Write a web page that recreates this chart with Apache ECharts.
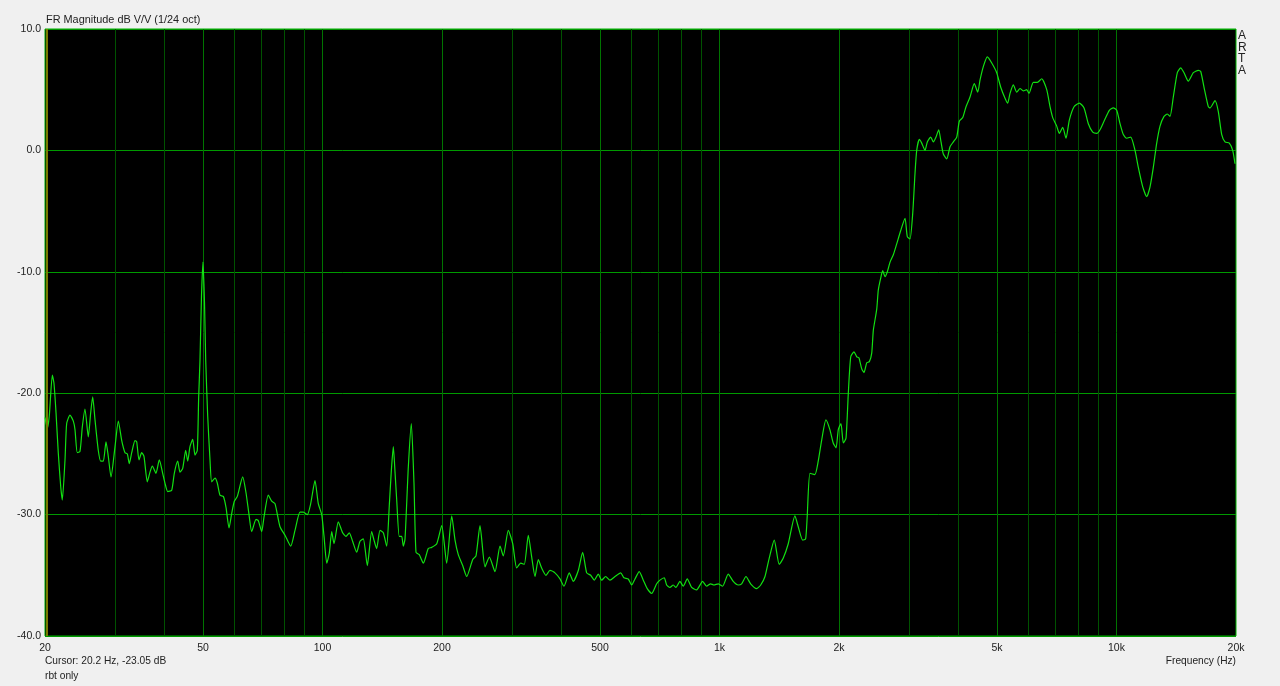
<!DOCTYPE html>
<html>
<head>
<meta charset="utf-8">
<script src="https://cdn.jsdelivr.net/npm/echarts@6/dist/echarts.min.js"></script>
<style>
html,body{margin:0;padding:0;background:#f0f0f0;}
#chart{width:1280px;height:686px;}
</style>
</head>
<body>
<div id="chart"></div>
<script>
// Frequency (Hz)
const freqs = [20.0,20.27,20.5,20.87,21.07,21.32,21.6,21.91,22.11,22.46,22.68,23.12,23.57,23.8,24.12,24.5,24.83,25.22,25.71,26.07,26.37,26.73,27.24,27.63,28.05,28.49,28.87,29.33,30.02,30.6,31.21,31.81,32.24,32.61,33.07,33.71,34.04,34.5,35.04,35.51,36.2,36.77,37.27,38.07,38.81,39.58,40.11,40.75,41.7,42.34,43.18,43.76,44.45,45.23,45.76,46.37,47.11,47.74,48.38,48.77,49.14,49.57,50.0,50.44,50.8,51.39,52.08,52.59,53.61,54.33,55.19,56.26,57.14,58.15,59.06,59.96,61.02,62.96,64.17,65.3,66.33,68.01,68.92,70.29,71.23,73.03,74.49,75.92,78.16,80.46,83.16,85.26,87.77,89.47,91.56,93.39,95.75,97.59,99.54,100.9,102.5,104.0,105.5,106.9,109.6,112.4,114.6,116.8,119.1,121.9,124.3,126.7,129.7,133.0,134.8,136.9,139.6,142.3,145.1,147.3,149.0,150.8,152.3,153.8,156.1,158.3,159.8,161.4,164.5,167.4,170.0,172.0,175.3,179.5,184.7,188.4,194.0,199.7,205.5,211.6,215.7,219.8,225.5,230.8,239.0,243.6,249.3,256.7,263.2,272.0,280.0,285.4,293.8,301.4,308.4,315.7,322.3,329.9,336.5,343.0,349.6,356.5,365.6,374.1,385.1,396.5,405.8,418.4,428.3,440.9,452.2,462.9,473.7,483.7,495.1,504.9,516.8,529.8,545.4,563.7,574.6,589.1,600.8,612.5,627.9,642.7,657.7,674.7,694.6,708.0,725.8,736.0,750.2,764.7,776.8,795.0,810.4,829.4,850.8,875.8,906.8,928.1,949.9,968.3,992.7,1018,1052,1083,1115,1137,1166,1198,1240,1270,1302,1334,1374,1414,1447,1490,1549,1579,1620,1648,1663,1690,1739,1773,1808,1854,1897,1934,1966,1992,2023,2051,2083,2111,2141,2182,2217,2246,2282,2312,2349,2385,2418,2441,2489,2512,2548,2577,2612,2647,2689,2741,2795,2861,2933,2972,3019,3067,3108,3139,3187,3231,3294,3338,3404,3456,3511,3566,3614,3663,3736,3808,3882,3959,4019,4099,4178,4276,4384,4472,4532,4619,4728,4850,4992,5110,5239,5321,5393,5497,5606,5715,5825,5941,6021,6173,6318,6481,6672,6801,6908,7071,7178,7321,7462,7607,7817,8061,8284,8493,8712,8917,9089,9302,9593,9818,10014,10207,10404,10612,10861,11135,11350,11644,11917,12147,12381,12628,12872,13174,13429,13641,13904,14231,14514,14794,15169,15615,16074,16300,16615,17034,17203,17709,18051,18411,18767,19240,19620,19884];
// Magnitude (dB)
const magnitudes = [-22.0,-22.9,-21.9,-18.5,-19.2,-21.6,-24.9,-27.7,-28.8,-25.5,-22.5,-21.8,-22.3,-23.0,-24.9,-24.8,-22.8,-21.3,-23.6,-21.6,-20.3,-22.2,-24.7,-25.6,-25.6,-24.0,-25.2,-26.9,-24.4,-22.3,-23.9,-24.9,-25.0,-25.8,-24.9,-23.9,-24.0,-25.5,-24.9,-25.2,-27.3,-26.5,-26.0,-26.6,-25.5,-26.6,-27.4,-28.1,-28.0,-26.6,-25.6,-26.5,-26.2,-24.7,-25.6,-24.4,-23.8,-25.1,-24.7,-20.3,-17.3,-12.0,-9.2,-12.5,-17.3,-21.9,-25.5,-27.3,-27.0,-27.4,-28.4,-28.5,-29.4,-31.1,-29.9,-28.9,-28.5,-26.9,-28.2,-30.0,-31.4,-30.4,-30.5,-31.4,-30.2,-28.4,-28.9,-29.1,-31.0,-31.7,-32.6,-31.3,-29.8,-29.8,-30.0,-29.1,-27.2,-29.1,-30.0,-31.8,-34.0,-33.2,-31.4,-32.4,-30.6,-31.5,-31.8,-31.5,-32.2,-33.1,-32.2,-32.0,-34.2,-31.4,-32.1,-32.8,-31.3,-31.5,-32.6,-29.3,-26.5,-24.4,-26.5,-28.8,-31.8,-31.8,-32.6,-32.0,-26.1,-22.5,-27.4,-33.1,-33.3,-34.0,-32.8,-32.7,-32.4,-30.9,-34.0,-30.1,-32.1,-33.3,-34.2,-35.1,-33.7,-33.4,-30.9,-34.3,-33.5,-34.7,-32.6,-33.4,-31.3,-32.4,-34.4,-34.0,-34.1,-31.7,-33.5,-35.1,-33.7,-34.4,-35.0,-34.6,-34.8,-35.3,-35.9,-34.8,-35.5,-34.6,-33.1,-34.8,-35.0,-35.4,-34.9,-35.4,-35.1,-35.4,-35.1,-34.8,-35.2,-35.3,-35.8,-35.3,-34.7,-35.4,-36.1,-36.5,-35.7,-35.4,-35.2,-35.8,-36.0,-35.8,-36.0,-35.5,-35.9,-35.3,-36.0,-36.2,-35.5,-35.9,-35.7,-35.8,-35.7,-35.9,-34.9,-35.5,-35.8,-35.7,-35.1,-35.7,-36.1,-35.8,-35.1,-33.6,-32.1,-34.1,-33.6,-32.4,-30.1,-31.0,-32.1,-32.0,-30.2,-26.6,-26.7,-25.6,-23.9,-22.2,-23.0,-24.1,-24.5,-23.0,-22.5,-24.1,-23.7,-20.0,-17.0,-16.6,-17.0,-17.1,-18.0,-18.3,-17.5,-17.4,-16.7,-14.8,-13.1,-11.5,-10.5,-9.9,-10.4,-10.0,-9.2,-8.6,-7.7,-6.6,-5.6,-7.1,-7.3,-5.2,-1.9,0.0,0.9,0.6,0.0,0.7,1.1,0.7,1.1,1.7,0.7,-0.3,-0.7,0.3,0.7,1.1,2.4,2.7,3.6,4.4,5.5,4.8,5.8,6.9,7.7,7.2,6.4,5.2,4.3,3.9,4.7,5.4,4.8,5.1,4.9,5.0,4.7,5.6,5.6,5.9,5.0,3.6,2.7,2.0,1.4,1.9,1.0,2.5,3.6,3.9,3.5,2.2,1.5,1.4,1.7,2.4,3.3,3.5,3.3,2.2,1.3,1.0,1.1,0.0,-1.4,-3.0,-3.8,-3.0,-1.4,0.6,2.0,2.8,3.0,2.8,4.4,6.4,6.8,6.4,5.7,6.4,6.6,6.5,5.2,3.6,3.5,4.1,3.2,1.3,0.7,0.6,0.0,-1.1];
// Axis ticks
const xLabelValues = [20,50,100,200,500,1000,2000,5000,10000,20000];
const xMajorGrid = [50,100,200,500,1000,2000,5000,10000];
const xMinorGrid = [30,40,60,70,80,90,300,400,600,700,800,900,3000,4000,6000,7000,8000,9000];
const yTicks = [10,0,-10,-20,-30,-40];
const cursorFreq = 20.2;

const curve = freqs.map((f, i) => [f, magnitudes[i]]);
const fmtFreq = v => v >= 1000 ? (v / 1000) + 'k' : String(v);

const chart = echarts.init(document.getElementById('chart'), null, {renderer: 'canvas'});
const font = '"Liberation Sans", Arial, sans-serif';

function gridAxis(values, color) {
  return {
    type: 'log', logBase: 10, min: 20, max: 20000, show: true,
    axisLine: {show: false},
    axisLabel: {show: false},
    axisTick: {show: false, customValues: values},
    splitLine: {show: true, lineStyle: {color: color, width: 1}}
  };
}

chart.setOption({
  animation: false,
  backgroundColor: '#f0f0f0',
  grid: {
    left: 45, right: 44, top: 29, bottom: 50,
    show: true, backgroundColor: '#000000',
    borderColor: '#00b000', borderWidth: 1
  },
  xAxis: [
    {
      type: 'log', logBase: 10, min: 20, max: 20000,
      axisLine: {show: false},
      axisTick: {show: false},
      splitLine: {show: false},
      minorTick: {show: false},
      axisLabel: {
        customValues: xLabelValues,
        formatter: fmtFreq,
        color: '#222', fontFamily: font, fontSize: 10.5, margin: 7,
        showMinLabel: true, showMaxLabel: true
      }
    },
    gridAxis(xMinorGrid, '#005200'),
    gridAxis(xMajorGrid, '#007400')
  ],
  yAxis: {
    type: 'value', min: yTicks[yTicks.length - 1], max: yTicks[0], interval: 10,
    axisLine: {show: false},
    axisTick: {show: false},
    axisLabel: {
      formatter: v => v.toFixed(1),
      color: '#222', fontFamily: font, fontSize: 10.5, margin: 4
    },
    splitLine: {show: true, lineStyle: {color: '#009a00', width: 1}}
  },
  series: [
    {
      type: 'line', data: [], z: 2, silent: true,
      markLine: {
        silent: true, symbol: 'none', animation: false,
        label: {show: false},
        lineStyle: {color: '#7a7a00', width: 2, type: 'solid'},
        data: [{xAxis: cursorFreq}]
      }
    },
    {
      type: 'line', data: curve, z: 3,
      showSymbol: false, symbol: 'none', smooth: 0.2,
      lineStyle: {color: '#12e012', width: 1.2},
      silent: true
    }
  ],
  graphic: [
    {type: 'text', left: 46, top: 14, style: {text: 'FR Magnitude dB V/V (1/24 oct)', font: '10.9px ' + font, fill: '#222'}},
    {type: 'text', left: 1238, top: 30, style: {text: 'A\nR\nT\nA', font: '12px ' + font, fill: '#222', lineHeight: 11.5}},
    {type: 'text', left: 45, top: 656, style: {text: 'Cursor: 20.2 Hz, -23.05 dB', font: '10.2px ' + font, fill: '#222'}},
    {type: 'text', left: 45, top: 671, style: {text: 'rbt only', font: '10.2px ' + font, fill: '#222'}},
    {type: 'text', right: 44, top: 656, style: {text: 'Frequency (Hz)', font: '10.2px ' + font, fill: '#222'}}
  ]
});
</script>
</body>
</html>
